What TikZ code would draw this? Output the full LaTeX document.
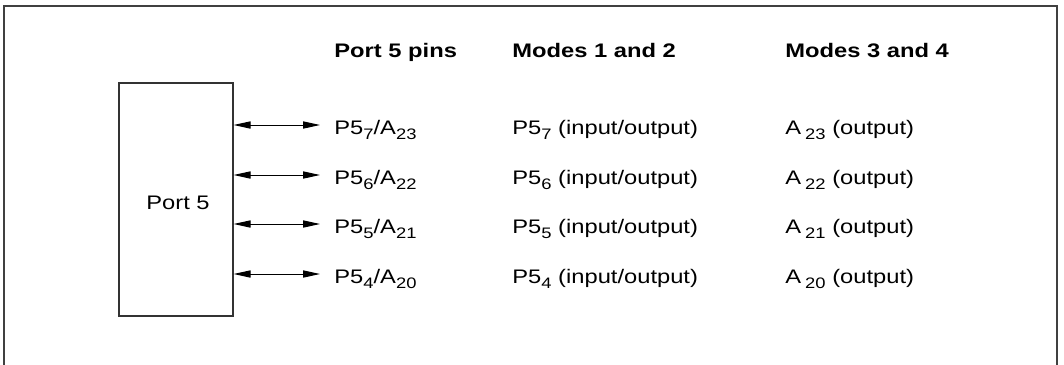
\documentclass[tikz,border=0pt]{standalone}
\usepackage{fontspec}
\setmainfont{Liberation Sans}[FakeStretch=1.21]
\usetikzlibrary{arrows.meta}

\newcommand{\pinsub}[1]{\raisebox{-2.6pt}{\fontsize{7.6}{8}\selectfont #1}}

\begin{document}
\begin{tikzpicture}[x=0.5pt, y=-0.5pt, >={Triangle[length=8.5pt, width=3.6pt]},
    font=\fontsize{9.8}{12}\selectfont,
    txt/.style={anchor=base west, inner sep=0pt},
    head/.style={txt, font=\fontsize{9.8}{12}\selectfont\bfseries}]

  \useasboundingbox (0,0) rectangle (1064,364);

  % Outer frame (open at the bottom edge)
  \begin{scope}
    \clip (0,0) rectangle (1064,364);
    \draw[black!75, line width=0.6pt] (4,380) -- (4,6) -- (1057,6) -- (1057,380);
  \end{scope}

  % Column headings
  \node[head] (hpins)  at (334,57) {Port 5 pins};
  \node[head] (hmode1) at (512,57) {Modes 1 and 2};
  \node[head] (hmode3) at (785,57) {Modes 3 and 4};

  % Port block
  \node[draw=black!80, line width=0.6pt, minimum width=57pt, minimum height=116.5pt,
        inner sep=0pt] (port) at (176,199.5) {};
  \node (plabel) at (178,203) {Port 5};

  % Pin rows
  \foreach \i/\y/\a in {7/125/23, 6/175/22, 5/224/21, 4/274/20} {
    \coordinate (e\i) at (320,\y);
    \draw[<->, line width=0.5pt] (port.east |- e\i) -- (e\i);
    \node[txt] (pin\i)  at (334,\y+9.5) {P5\pinsub{\i}/A\pinsub{\a}};
    \node[txt] (mab\i)  at (512,\y+9.5) {P5\pinsub{\i} (input/output)};
    \node[txt] (mcd\i)  at (785,\y+9.5) {A\kern2pt\pinsub{\a} (output)};
  }

\end{tikzpicture}
\end{document}
